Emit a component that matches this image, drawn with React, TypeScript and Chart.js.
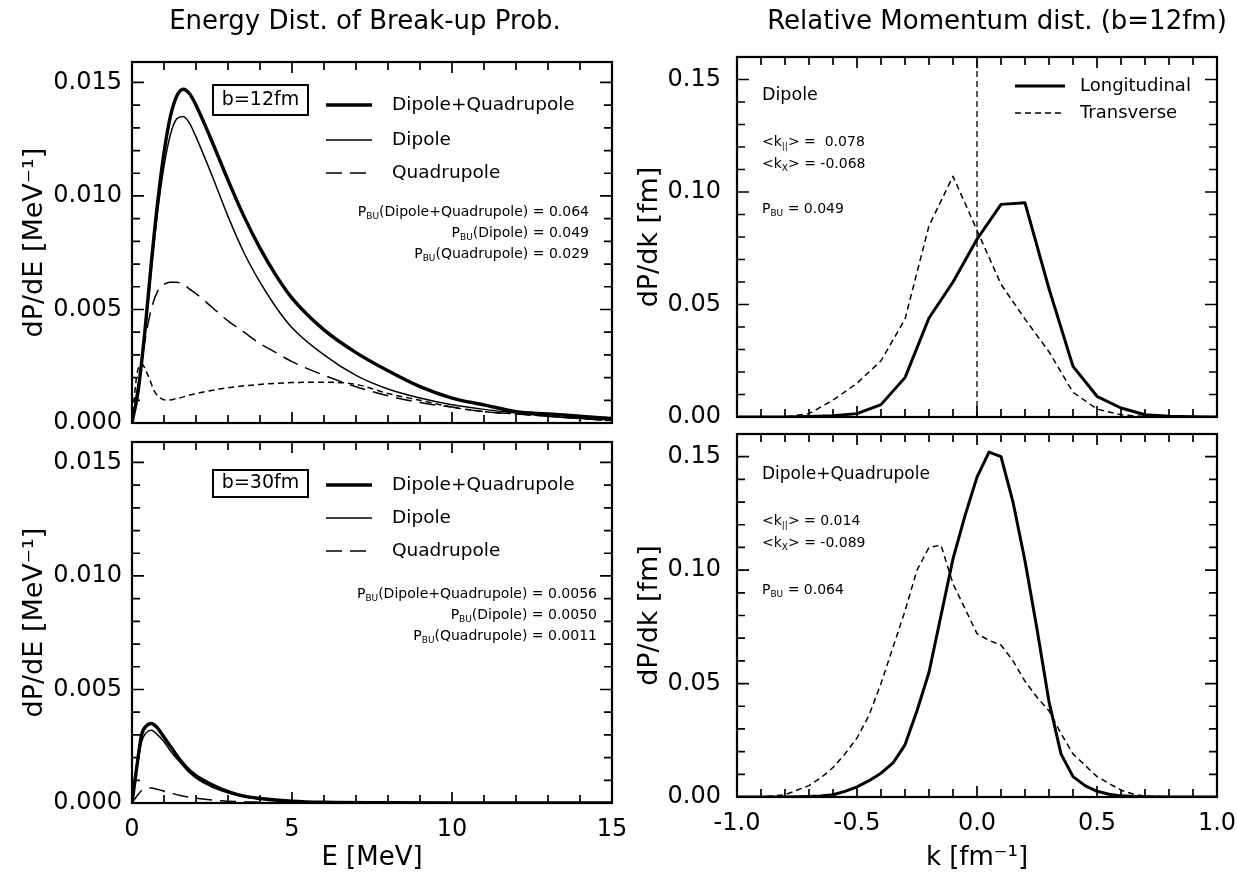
import React, { useEffect, useRef } from 'react';
import { Chart, registerables } from 'chart.js';

Chart.register(...registerables);

const FONT = "'DejaVu Sans', 'Liberation Sans', Arial, sans-serif";

// ===== Energy distribution, b = 12 fm =====
const E_12 = [0, 0.2, 0.4, 0.6, 0.8, 1.0, 1.2, 1.4, 1.6, 1.8, 2.0, 2.5, 3.0, 3.5, 4.0, 4.5, 5.0, 6.0, 7.0, 8.0, 9.0, 10, 11, 12, 13, 14, 15];
const dipQuad12 = [0, 0.0015, 0.004, 0.007, 0.0097, 0.0119, 0.0135, 0.0144, 0.0147, 0.0145, 0.014, 0.0124, 0.0107, 0.0091, 0.0077, 0.0065, 0.0055, 0.0041, 0.0031, 0.0023, 0.0016, 0.0011, 0.0008, 0.0005, 0.0004, 0.0003, 0.0002];
const dipole12 = [0, 0.0014, 0.0038, 0.0067, 0.0093, 0.0113, 0.0127, 0.0134, 0.0135, 0.0132, 0.0126, 0.0109, 0.0091, 0.0075, 0.0062, 0.0051, 0.0042, 0.003, 0.0021, 0.0015, 0.0011, 0.0008, 0.0006, 0.00045, 0.0003, 0.0002, 0.00015];
const quad12 = [0, 0.0018, 0.0036, 0.005, 0.0058, 0.0061, 0.0062, 0.0062, 0.0061, 0.0059, 0.0057, 0.0051, 0.0045, 0.004, 0.0035, 0.0031, 0.0027, 0.0021, 0.0016, 0.0012, 0.0009, 0.0007, 0.0005, 0.0004, 0.0003, 0.0002, 0.0001];
const E_12s = [0, 0.15, 0.3, 0.5, 0.7, 0.9, 1.1, 1.4, 2.0, 3.0, 4.0, 5.0, 6.0, 7.0, 8.0, 9.0, 10, 11, 12, 13, 14, 15];
const shortDash12 = [0, 0.0021, 0.0026, 0.0021, 0.0014, 0.00108, 0.00101, 0.00108, 0.0013, 0.00155, 0.0017, 0.00178, 0.0018, 0.0017, 0.0013, 0.001, 0.0007, 0.0005, 0.0004, 0.0003, 0.0002, 0.0001];

// ===== Energy distribution, b = 30 fm =====
const E_30 = [0, 0.15, 0.3, 0.45, 0.6, 0.8, 1.0, 1.25, 1.5, 1.75, 2.0, 2.5, 3.0, 3.5, 4.0, 5.0, 6.0, 8.0, 10, 15];
const dipQuad30 = [0, 0.0016, 0.003, 0.0034, 0.0035, 0.0033, 0.0029, 0.0024, 0.0019, 0.0015, 0.0012, 0.0008, 0.0005, 0.0003, 0.0002, 0.00008, 0.00003, 0.00001, 0, 0];
const dipole30 = [0, 0.0015, 0.0027, 0.0031, 0.0032, 0.003, 0.0027, 0.0022, 0.0018, 0.0014, 0.0011, 0.0007, 0.00045, 0.00028, 0.00018, 0.00007, 0.00003, 0.00001, 0, 0];
const quad30 = [0, 0.0003, 0.00055, 0.00064, 0.00066, 0.0006, 0.00052, 0.00042, 0.00033, 0.00026, 0.00021, 0.00013, 0.00008, 0.00005, 0.00003, 0.00001, 0, 0, 0, 0];

// ===== Relative momentum, Dipole =====
const K_DIP = [-1.0, -0.9, -0.8, -0.7, -0.6, -0.5, -0.4, -0.3, -0.2, -0.1, 0.0, 0.1, 0.2, 0.3, 0.4, 0.5, 0.6, 0.7, 0.8, 0.9, 1.0];
const longDip = [0, 0, 0, 0.0002, 0.0006, 0.0015, 0.0055, 0.0175, 0.044, 0.06, 0.079, 0.0945, 0.0952, 0.057, 0.0225, 0.0092, 0.004, 0.001, 0.0003, 0.0001, 0];
const transDip = [0, 0, 0, 0.0015, 0.0075, 0.015, 0.025, 0.0435, 0.085, 0.107, 0.083, 0.059, 0.0435, 0.029, 0.011, 0.0035, 0.001, 0.0002, 0, 0, 0];

// ===== Relative momentum, Dipole+Quadrupole =====
const K_DQ = [-1.0, -0.9, -0.8, -0.7, -0.65, -0.6, -0.55, -0.5, -0.45, -0.4, -0.35, -0.3, -0.25, -0.2, -0.15, -0.1, -0.05, 0.0, 0.05, 0.1, 0.15, 0.2, 0.25, 0.3, 0.35, 0.4, 0.45, 0.5, 0.55, 0.6, 0.65, 0.7, 0.8, 0.9, 1.0];
const longDQ = [0, 0, 0, 0.0002, 0.0004, 0.001, 0.0025, 0.0045, 0.0072, 0.0105, 0.015, 0.023, 0.038, 0.055, 0.08, 0.105, 0.124, 0.141, 0.152, 0.15, 0.13, 0.104, 0.074, 0.042, 0.019, 0.009, 0.005, 0.0025, 0.0012, 0.0005, 0.0002, 0.0001, 0, 0, 0];
const transDQ = [0, 0, 0.001, 0.005, 0.0085, 0.013, 0.019, 0.026, 0.036, 0.05, 0.066, 0.082, 0.1, 0.11, 0.111, 0.094, 0.083, 0.072, 0.069, 0.067, 0.06, 0.051, 0.044, 0.038, 0.028, 0.019, 0.014, 0.009, 0.006, 0.003, 0.0013, 0.0004, 0, 0, 0];

// ===== Text =====
const TITLE_LEFT = 'Energy Dist. of Break-up Prob.';
const TITLE_RIGHT = 'Relative Momentum dist. (b=12fm)';
const E_LEGEND = ['Dipole+Quadrupole', 'Dipole', 'Quadrupole'];
const K_LEGEND = ['Longitudinal', 'Transverse'];
const PBU_12 = [['(Dipole+Quadrupole) = 0.064'], ['(Dipole) = 0.049'], ['(Quadrupole) = 0.029']];
const PBU_30 = [['(Dipole+Quadrupole) = 0.0056'], ['(Dipole) = 0.0050'], ['(Quadrupole) = 0.0011']];

type Part = { t: string; sub?: boolean };
type RichLine = { parts: Part[]; x: number; y: number; align: 'left' | 'right'; size: number };

const isMult = (v: number, step: number) => Math.abs(v / step - Math.round(v / step)) < 1e-6;

const toXY = (xs: number[], ys: number[]) => xs.map((x, i) => ({ x, y: ys[i] }));

function line(xs: number[], ys: number[], width: number, dash: number[], smooth: boolean) {
  return {
    data: toXY(xs, ys),
    borderColor: '#000',
    backgroundColor: '#000',
    borderWidth: width,
    borderDash: dash,
    pointRadius: 0,
    fill: false,
    tension: smooth ? 0.4 : 0,
    cubicInterpolationMode: smooth ? 'monotone' : 'default',
    borderCapStyle: 'butt',
    borderJoinStyle: 'round',
  };
}

function drawRich(ctx: CanvasRenderingContext2D, l: RichLine) {
  const sub = Math.round(l.size * 0.62);
  const widths = l.parts.map((p) => {
    ctx.font = `${p.sub ? sub : l.size}px ${FONT}`;
    return ctx.measureText(p.t).width;
  });
  const total = widths.reduce((a, b) => a + b, 0);
  let x = l.align === 'right' ? l.x - total : l.x;
  ctx.textAlign = 'left';
  ctx.textBaseline = 'middle';
  l.parts.forEach((p, i) => {
    ctx.font = `${p.sub ? sub : l.size}px ${FONT}`;
    ctx.fillText(p.t, x, p.sub ? l.y + l.size * 0.3 : l.y);
    x += widths[i];
  });
}

type Panel = {
  canvas: { x: number; y: number; w: number; h: number };
  area: { l: number; t: number; r: number; b: number };
  x: { min: number; max: number; minor: number; major: number; digits: number; labels: boolean; title?: string };
  y: { max: number; minor: number; major: number; digits: number; title: string; titleX: number; tickPad: number };
  datasets: any[];
  title: { text: string; x: number; y: number };
  box?: { text: string; x1: number; y1: number; x2: number; y2: number };
  legend: { x1: number; x2: number; tx: number; rows: number[]; labels: string[]; size: number };
  rich: RichLine[];
  zeroLine?: boolean;
};

const pbuLines = (rows: string[][], x: number, ys: number[]): RichLine[] =>
  rows.map((r, i) => ({ parts: [{ t: 'P' }, { t: 'BU', sub: true }, { t: r[0] }], x, y: ys[i], align: 'right', size: 14 }));

const THICK = 3.4;
const THIN = 1.5;

const PANELS: Panel[] = [
  {
    canvas: { x: 0, y: 0, w: 640, h: 440 },
    area: { l: 132, t: 62, r: 612, b: 423 },
    x: { min: 0, max: 15, minor: 1, major: 5, digits: 0, labels: false },
    y: { max: 0.0159, minor: 0.001, major: 0.005, digits: 3, title: 'dP/dE [MeV\u207B\u00B9]', titleX: 35, tickPad: 10 },
    datasets: [
      line(E_12, dipQuad12, THICK, [], true),
      line(E_12, dipole12, THIN, [], true),
      line(E_12, quad12, THIN, [16, 8], true),
      line(E_12s, shortDash12, THIN, [6, 4], true),
    ],
    title: { text: TITLE_LEFT, x: 365, y: 22 },
    box: { text: 'b=12fm', x1: 213, y1: 85, x2: 308, y2: 115 },
    legend: { x1: 326, x2: 372, tx: 392, rows: [105, 140, 173], labels: E_LEGEND, size: 18.5 },
    rich: pbuLines(PBU_12, 589, [212, 233, 254]),
  },
  {
    canvas: { x: 0, y: 432, w: 640, h: 442 },
    area: { l: 132, t: 442, r: 612, b: 803 },
    x: { min: 0, max: 15, minor: 1, major: 5, digits: 0, labels: true, title: 'E [MeV]' },
    y: { max: 0.0159, minor: 0.001, major: 0.005, digits: 3, title: 'dP/dE [MeV\u207B\u00B9]', titleX: 35, tickPad: 10 },
    datasets: [
      line(E_30, dipQuad30, THICK, [], true),
      line(E_30, dipole30, THIN, [], true),
      line(E_30, quad30, THIN, [16, 8], true),
    ],
    title: { text: '', x: 0, y: 0 },
    box: { text: 'b=30fm', x1: 213, y1: 470, x2: 308, y2: 497 },
    legend: { x1: 326, x2: 372, tx: 392, rows: [485, 518, 551], labels: E_LEGEND, size: 18.5 },
    rich: pbuLines(PBU_30, 597, [594, 615, 636]),
  },
  {
    canvas: { x: 620, y: 0, w: 617, h: 440 },
    area: { l: 737, t: 57, r: 1217, b: 417 },
    x: { min: -1, max: 1, minor: 0.1, major: 0.5, digits: 1, labels: false },
    y: { max: 0.16, minor: 0.01, major: 0.05, digits: 2, title: 'dP/dk [fm]', titleX: 650, tickPad: 16 },
    datasets: [line(K_DIP, longDip, 3, [], false), line(K_DIP, transDip, THIN, [6, 4], false)],
    title: { text: TITLE_RIGHT, x: 997, y: 22 },
    legend: { x1: 1015, x2: 1065, tx: 1080, rows: [86, 113], labels: K_LEGEND, size: 18 },
    rich: [
      { parts: [{ t: 'Dipole' }], x: 762, y: 95, align: 'left', size: 17.5 },
      { parts: [{ t: '<k' }, { t: '||', sub: true }, { t: '> =  0.078' }], x: 762, y: 142, align: 'left', size: 14 },
      { parts: [{ t: '<k' }, { t: 'X', sub: true }, { t: '> = -0.068' }], x: 762, y: 164, align: 'left', size: 14 },
      { parts: [{ t: 'P' }, { t: 'BU', sub: true }, { t: ' = 0.049' }], x: 762, y: 209, align: 'left', size: 14 },
    ],
    zeroLine: true,
  },
  {
    canvas: { x: 620, y: 426, w: 617, h: 448 },
    area: { l: 737, t: 434, r: 1217, b: 797 },
    x: { min: -1, max: 1, minor: 0.1, major: 0.5, digits: 1, labels: true, title: 'k [fm\u207B\u00B9]' },
    y: { max: 0.16, minor: 0.01, major: 0.05, digits: 2, title: 'dP/dk [fm]', titleX: 650, tickPad: 16 },
    datasets: [line(K_DQ, longDQ, 3, [], false), line(K_DQ, transDQ, THIN, [6, 4], false)],
    title: { text: '', x: 0, y: 0 },
    legend: { x1: 0, x2: 0, tx: 0, rows: [], labels: [], size: 18 },
    rich: [
      { parts: [{ t: 'Dipole+Quadrupole' }], x: 762, y: 475, align: 'left', size: 17 },
      { parts: [{ t: '<k' }, { t: '||', sub: true }, { t: '> = 0.014' }], x: 762, y: 521, align: 'left', size: 14 },
      { parts: [{ t: '<k' }, { t: 'X', sub: true }, { t: '> = -0.089' }], x: 762, y: 543, align: 'left', size: 14 },
      { parts: [{ t: 'P' }, { t: 'BU', sub: true }, { t: ' = 0.064' }], x: 762, y: 590, align: 'left', size: 14 },
    ],
  },
];

function buildConfig(p: Panel): any {
  const c = p.canvas;
  const a = p.area;
  const yw = a.l - c.x;
  const xh = p.x.labels ? 873 - a.b : 0;
  const zeroPads = (s: any) => {
    s.paddingLeft = 0;
    s.paddingRight = 0;
    s.paddingTop = 0;
    s.paddingBottom = 0;
  };
  const decor = {
    id: 'decor',
    afterDraw(chart: any) {
      const ctx: CanvasRenderingContext2D = chart.ctx;
      const { left, right, top, bottom } = chart.chartArea;
      const xs = chart.scales.x;
      const ys = chart.scales.y;
      const ox = c.x;
      const oy = c.y;
      ctx.save();
      ctx.strokeStyle = '#000';
      ctx.fillStyle = '#000';
      if (p.zeroLine) {
        const zx = xs.getPixelForValue(0);
        ctx.lineWidth = 1.3;
        ctx.setLineDash([6, 4]);
        ctx.beginPath();
        ctx.moveTo(zx, bottom);
        ctx.lineTo(zx, top);
        ctx.stroke();
        ctx.setLineDash([]);
      }
      ctx.lineWidth = 1.7;
      xs.ticks.forEach((t: any) => {
        if (!isMult(t.value, p.x.minor)) return;
        const px = xs.getPixelForValue(t.value);
        const len = isMult(t.value, p.x.major) ? 11 : 8;
        ctx.beginPath();
        ctx.moveTo(px, bottom);
        ctx.lineTo(px, bottom - len);
        ctx.moveTo(px, top);
        ctx.lineTo(px, top + len);
        ctx.stroke();
      });
      ys.ticks.forEach((t: any) => {
        if (!isMult(t.value, p.y.minor)) return;
        const py = ys.getPixelForValue(t.value);
        const len = isMult(t.value, p.y.major) ? 12 : 8;
        ctx.beginPath();
        ctx.moveTo(left, py);
        ctx.lineTo(left + len, py);
        ctx.moveTo(right, py);
        ctx.lineTo(right - len, py);
        ctx.stroke();
      });
      ctx.lineWidth = 2.2;
      ctx.strokeRect(left, top, right - left, bottom - top);
      if (p.title.text) {
        ctx.font = `26px ${FONT}`;
        ctx.textAlign = 'center';
        ctx.textBaseline = 'middle';
        ctx.fillText(p.title.text, p.title.x - ox, p.title.y - oy);
      }
      if (p.box) {
        const b = p.box;
        ctx.lineWidth = 2;
        ctx.strokeRect(b.x1 - ox, b.y1 - oy, b.x2 - b.x1, b.y2 - b.y1);
        ctx.font = `19px ${FONT}`;
        ctx.textAlign = 'center';
        ctx.textBaseline = 'middle';
        ctx.fillText(b.text, (b.x1 + b.x2) / 2 - ox, (b.y1 + b.y2) / 2 - oy);
      }
      const lg = p.legend;
      lg.rows.forEach((ry, i) => {
        const ds = chart.data.datasets[i];
        ctx.lineWidth = ds.borderWidth;
        ctx.setLineDash(ds.borderDash || []);
        ctx.beginPath();
        ctx.moveTo(lg.x1 - ox, ry - oy);
        ctx.lineTo(lg.x2 - ox, ry - oy);
        ctx.stroke();
        ctx.setLineDash([]);
        ctx.font = `${lg.size}px ${FONT}`;
        ctx.textAlign = 'left';
        ctx.textBaseline = 'middle';
        ctx.fillText(lg.labels[i], lg.tx - ox, ry - oy);
      });
      p.rich.forEach((r) => drawRich(ctx, { ...r, x: r.x - ox, y: r.y - oy }));
      ctx.restore();
    },
  };

  return {
    type: 'line',
    data: { datasets: p.datasets },
    options: {
      animation: false,
      responsive: false,
      devicePixelRatio: 1,
      events: [],
      layout: {
        padding: {
          left: 0,
          top: a.t - c.y,
          right: c.x + c.w - a.r,
          bottom: c.y + c.h - a.b - xh,
        },
      },
      plugins: { legend: { display: false }, tooltip: { enabled: false }, title: { display: false } },
      scales: {
        x: {
          type: 'linear',
          min: p.x.min,
          max: p.x.max,
          grid: { display: false, drawTicks: false },
          border: { display: false },
          ticks: {
            display: p.x.labels,
            stepSize: p.x.minor,
            maxTicksLimit: 200,
            autoSkip: false,
            includeBounds: false,
            maxRotation: 0,
            minRotation: 0,
            padding: 12,
            color: '#000',
            font: { size: 24, family: FONT },
            callback: (v: number) => (isMult(v, p.x.major) ? (Math.abs(v) < 1e-9 ? 0 : v).toFixed(p.x.digits) : ''),
          },
          title: {
            display: !!p.x.title,
            text: p.x.title || '',
            color: '#000',
            font: { size: 26, family: FONT, lineHeight: 1 },
            padding: { top: 0, bottom: 2 },
          },
          afterFit: (s: any) => {
            s.height = xh;
            zeroPads(s);
          },
        },
        y: {
          type: 'linear',
          min: 0,
          max: p.y.max,
          grid: { display: false, drawTicks: false },
          border: { display: false },
          ticks: {
            stepSize: p.y.minor,
            maxTicksLimit: 200,
            autoSkip: false,
            includeBounds: false,
            padding: p.y.tickPad,
            color: '#000',
            font: { size: 24, family: FONT },
            callback: (v: number) => (isMult(v, p.y.major) ? v.toFixed(p.y.digits) : ''),
          },
          title: {
            display: true,
            text: p.y.title,
            color: '#000',
            font: { size: 27, family: FONT, lineHeight: 1 },
            padding: { top: p.y.titleX - c.x - 13.5, bottom: 0 },
          },
          afterFit: (s: any) => {
            s.width = yw;
            zeroPads(s);
          },
        },
      },
    },
    plugins: [decor],
  };
}

export default function App() {
  const refs = useRef<(HTMLCanvasElement | null)[]>([]);
  useEffect(() => {
    const charts = PANELS.map((p, i) => new Chart(refs.current[i] as HTMLCanvasElement, buildConfig(p)));
    return () => charts.forEach((ch) => ch.destroy());
  }, []);
  return (
    <div style={{ position: 'absolute', left: 0, top: 0, width: 1237, height: 874, background: '#fff', overflow: 'hidden' }}>
      {PANELS.map((p, i) => (
        <canvas
          key={i}
          ref={(el) => {
            refs.current[i] = el;
          }}
          width={p.canvas.w}
          height={p.canvas.h}
          style={{ position: 'absolute', left: p.canvas.x, top: p.canvas.y, width: p.canvas.w, height: p.canvas.h }}
        />
      ))}
    </div>
  );
}
